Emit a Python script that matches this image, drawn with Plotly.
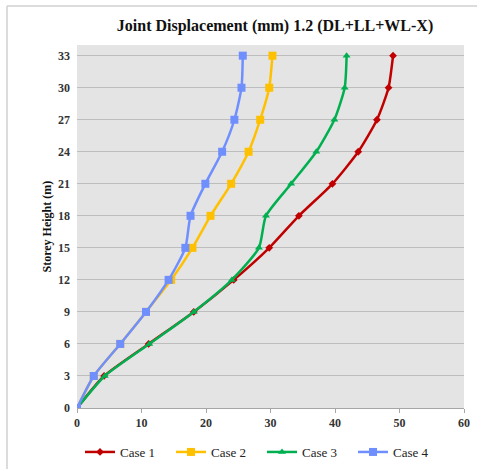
import plotly.graph_objects as go

heights = [0, 3, 6, 9, 12, 15, 18, 21, 24, 27, 30, 33]
case1 = [0, 4.2, 11.1, 18.1, 24.3, 29.8, 34.4, 39.6, 43.6, 46.5, 48.3, 49.0]
case2 = [0, 2.6, 6.7, 10.7, 14.6, 17.9, 20.7, 23.9, 26.6, 28.4, 29.8, 30.3]
case3 = [0, 4.3, 11.2, 18.1, 24.0, 28.2, 29.3, 33.2, 37.1, 39.9, 41.5, 41.8]
case4 = [0, 2.6, 6.7, 10.7, 14.2, 16.8, 17.6, 19.9, 22.5, 24.4, 25.5, 25.7]
names = ["Case 1", "Case 2", "Case 3", "Case 4"]
x_ticks = [0, 10, 20, 30, 40, 50, 60]
y_ticks = [0, 3, 6, 9, 12, 15, 18, 21, 24, 27, 30, 33]

series = [case1, case2, case3, case4]
colors = ["#C00000", "#FFC000", "#00B050", "#6F8FFF"]
symbols = ["diamond", "square", "triangle-up", "square"]
sizes = [6, 8, 7, 8]

SERIF = "Liberation Serif"
fig = go.Figure()
for n, s, c, sym, sz in zip(names, series, colors, symbols, sizes):
    fig.add_trace(go.Scatter(
        x=s, y=heights, name=n, mode="lines+markers",
        line=dict(color=c, width=2.5, shape="spline", smoothing=0.6),
        marker=dict(symbol=sym, size=sz, color=c),
    ))

W, H = 477, 469
L, R, T, B = 77, 13, 45, 61
pw, ph = W - L - R, H - T - B

fig.update_layout(
    width=W, height=H,
    margin=dict(l=L, r=R, t=T, b=B, autoexpand=False),
    paper_bgcolor="white",
    plot_bgcolor="#E4E4E4",
    font=dict(family=SERIF, size=12, color="#222"),
    title=dict(text="Joint Displacement (mm) 1.2 (DL+LL+WL-X)",
               font=dict(family=SERIF, size=16, weight="bold", color="#111"),
               x=(275 - L) / pw, xref="paper", xanchor="center",
               y=1 - 25 / H, yref="container", yanchor="middle"),
    xaxis=dict(range=[0, 60], tickvals=x_ticks, showgrid=False, zeroline=False,
               showline=True, linecolor="#A6A6A6", linewidth=1,
               ticks="outside", ticklen=4, tickcolor="#A6A6A6",
               tickfont=dict(family=SERIF, size=12, weight="bold", color="#333")),
    yaxis=dict(range=[0, 34], tickvals=y_ticks, showgrid=True, gridcolor="#BDBDBD",
               gridwidth=1, zeroline=False, showline=False, ticks="",
               ticklabelstandoff=6,
               tickfont=dict(family=SERIF, size=12, weight="bold", color="#333")),
    showlegend=True,
    legend=dict(orientation="h", x=(80 - L) / pw, xanchor="left",
                y=(408 - 452) / ph, yanchor="middle",
                entrywidth=46, entrywidthmode="pixels",
                font=dict(family=SERIF, size=13, color="#222"),
                itemwidth=30, bgcolor="rgba(0,0,0,0)"),
    annotations=[dict(text="Storey Height (m)", textangle=-90, xref="paper", yref="paper",
                      x=(37 - L) / pw, y=0.5, showarrow=False,
                      font=dict(family=SERIF, size=12, weight="bold", color="#111"))],
    shapes=[
        dict(type="line", xref="paper", yref="paper", x0=(7 - L) / pw, x1=(7 - L) / pw,
             y0=(408 - H) / ph, y1=1 + (T - 6) / ph, line=dict(color="#D0D0D0", width=1.5)),
        dict(type="line", xref="paper", yref="paper", x0=(7 - L) / pw, x1=(W - L) / pw,
             y0=1 + (T - 6) / ph, y1=1 + (T - 6) / ph, line=dict(color="#D0D0D0", width=1.5)),
    ],
)
fig.write_html("out.html")
